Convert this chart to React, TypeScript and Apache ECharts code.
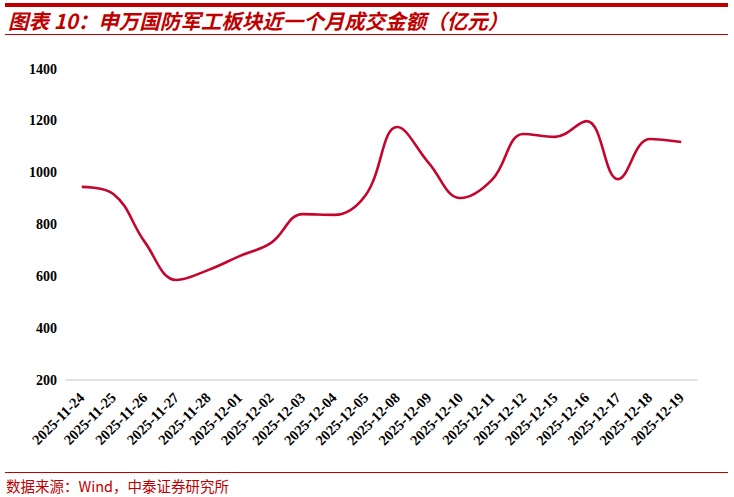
import React, { useEffect, useRef } from "react";
import * as echarts from "echarts";

const categories = [
  "2025-11-24", "2025-11-25", "2025-11-26", "2025-11-27", "2025-11-28",
  "2025-12-01", "2025-12-02", "2025-12-03", "2025-12-04", "2025-12-05",
  "2025-12-08", "2025-12-09", "2025-12-10", "2025-12-11", "2025-12-12",
  "2025-12-15", "2025-12-16", "2025-12-17", "2025-12-18", "2025-12-19",
];
const turnover = [
  945, 918, 732, 586, 624,
  678, 729, 840, 837, 914,
  1176, 1037, 902, 972, 1149,
  1138, 1199, 975, 1130, 1118,
];
const yMin = 200;
const yMax = 1400;
const yStep = 200;

const titleText = "图表 10：申万国防军工板块近一个月成交金额（亿元）";
const sourceText = "数据来源：Wind，中泰证券研究所";

const RED = "#C00000";

export default function App() {
  const ref = useRef<HTMLDivElement>(null);
  useEffect(() => {
    if (!ref.current) return;
    const chart = echarts.init(ref.current, null, { renderer: "svg" });
    chart.setOption({
      animation: false,
      backgroundColor: "#ffffff",
      grid: { left: 66, right: 37, top: 69, bottom: 117, containLabel: false },
      xAxis: {
        type: "category",
        data: categories,
        boundaryGap: true,
        axisLine: { show: true, lineStyle: { color: "#d9d9d9", width: 1.5 } },
        axisTick: { show: false },
        axisLabel: {
          rotate: 45,
          interval: 0,
          margin: 15,
          color: "#000",
          fontFamily: "Liberation Serif",
          fontWeight: "bold",
          fontSize: 14.5,
        },
      },
      yAxis: {
        type: "value",
        min: yMin,
        max: yMax,
        interval: yStep,
        axisLine: { show: false },
        axisTick: { show: false },
        splitLine: { show: false },
        axisLabel: {
          margin: 9,
          color: "#000",
          fontFamily: "Liberation Serif",
          fontWeight: "bold",
          fontSize: 14,
          formatter: (v: number) => String(v),
        },
      },
      series: [
        {
          type: "line",
          data: turnover,
          smooth: 0.4,
          symbol: "none",
          lineStyle: { color: "#C4062F", width: 2.6 },
        },
      ],
      graphic: [
        { type: "rect", shape: { x: 5, y: 3, width: 723, height: 4 }, style: { fill: RED } },
        {
          type: "text",
          x: 8,
          y: 20,
          style: {
            text: titleText,
            fill: RED,
            font: "italic bold 20.5px 'Noto Sans CJK SC'",
            verticalAlign: "middle",
          },
        },
        { type: "rect", shape: { x: 5, y: 34, width: 723, height: 1 }, style: { fill: RED } },
        { type: "rect", shape: { x: 5, y: 472, width: 723, height: 1 }, style: { fill: RED } },
        {
          type: "text",
          x: 6,
          y: 485,
          style: {
            text: sourceText,
            fill: RED,
            font: "14.5px 'Noto Sans CJK SC'",
            verticalAlign: "middle",
          },
        },
      ],
    });
    return () => chart.dispose();
  }, []);
  return <div ref={ref} style={{ width: 734, height: 497, position: "absolute", left: 0, top: 0 }} />;
}
